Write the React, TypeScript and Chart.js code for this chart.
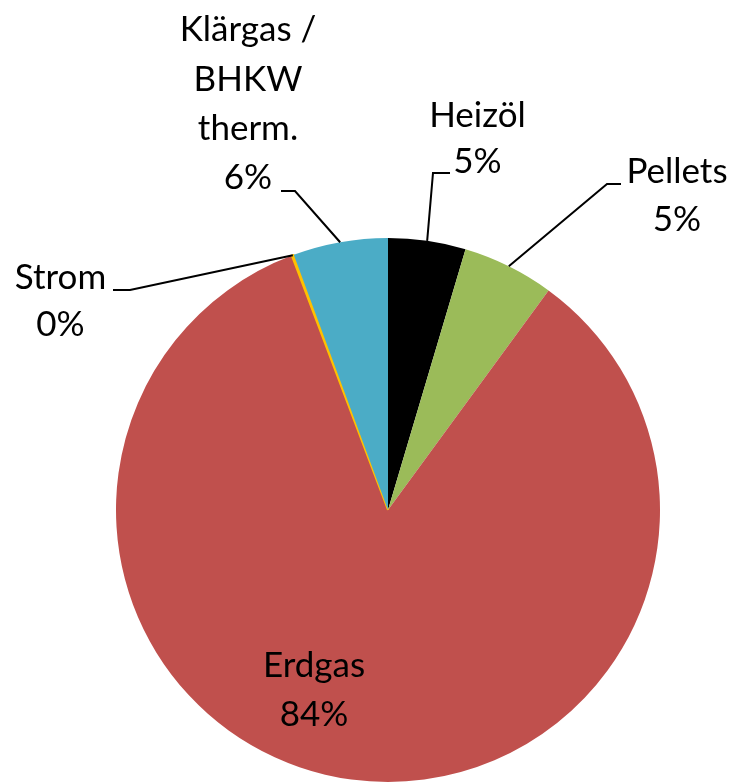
import React, { useEffect, useRef } from "react";
import { Chart, registerables } from "chart.js";

Chart.register(...registerables);

// ---- data ----
const categories = ["Heizöl", "Pellets", "Erdgas", "Strom", "Klärgas / BHKW therm."];
const shares = [4.6, 5.45, 84.2, 0.12, 5.63];
const sliceColors = ["#000000", "#9BBB59", "#C0504D", "#FFC000", "#4BACC6"];
const labelLines = [["Heizöl"], ["Pellets"], ["Erdgas"], ["Strom"], ["Klärgas /", "BHKW", "therm."]];

// ---- label layout (offsets relative to pie centre) ----
type LabelLayout = {
  dx: number;
  dy: number[]; // baseline of each line (name lines + percentage line)
  elbow?: [number, number];
  hEnd?: [number, number];
};
const labelLayout: LabelLayout[] = [
  { dx: 89.5, dy: [-383.3, -336.7], elbow: [45, -337], hEnd: [62, -337] },
  { dx: 289, dy: [-326.7, -279], elbow: [219, -326], hEnd: [233, -326] },
  { dx: -74, dy: [167, 216] },
  { dx: -327.5, dy: [-220.7, -174], elbow: [-258, -220], hEnd: [-275, -220] },
  { dx: -140, dy: [-469, -419.3, -370, -321], elbow: [-93, -319], hEnd: [-107, -319] },
];

const FONT = "35px Lato, 'Open Sans', sans-serif";

const labelPlugin = {
  id: "pieLabels",
  afterDraw(chart: any) {
    const ctx: CanvasRenderingContext2D = chart.ctx;
    const meta = chart.getDatasetMeta(0);
    const data: number[] = chart.data.datasets[0].data;
    const total = data.reduce((a, b) => a + b, 0);
    ctx.save();
    meta.data.forEach((arc: any, i: number) => {
      const { x, y, startAngle, endAngle, outerRadius } = arc.getProps(
        ["x", "y", "startAngle", "endAngle", "outerRadius"],
        true
      );
      const lay = labelLayout[i];
      const pct = Math.round((data[i] / total) * 100) + "%";
      const lines = [...labelLines[i], pct];
      // leader line
      if (lay.elbow && lay.hEnd) {
        const mid = (startAngle + endAngle) / 2;
        const ax = x + Math.cos(mid) * outerRadius;
        const ay = y + Math.sin(mid) * outerRadius;
        ctx.beginPath();
        ctx.moveTo(x + lay.hEnd[0], y + lay.hEnd[1]);
        ctx.lineTo(x + lay.elbow[0], y + lay.elbow[1]);
        ctx.lineTo(ax, ay);
        ctx.lineWidth = 2;
        ctx.strokeStyle = "#000000";
        ctx.lineJoin = "miter";
        ctx.stroke();
      }
      ctx.font = FONT;
      ctx.fillStyle = "#000000";
      ctx.textAlign = "center";
      ctx.textBaseline = "alphabetic";
      lines.forEach((t, k) => {
        ctx.fillText(t, x + lay.dx, y + lay.dy[k]);
      });
    });
    ctx.restore();
  },
};

export default function App() {
  const ref = useRef<HTMLCanvasElement | null>(null);
  useEffect(() => {
    if (!ref.current) return;
    const chart = new Chart(ref.current, {
      type: "pie",
      data: {
        labels: categories,
        datasets: [
          {
            data: shares,
            backgroundColor: sliceColors,
            borderColor: sliceColors,
            borderWidth: [0, 0, 0, 2, 0],
            hoverOffset: 0,
          },
        ],
      },
      options: {
        responsive: false,
        animation: false,
        events: [],
        layout: { padding: { left: 115, right: 71, top: 237, bottom: 17 } },
        plugins: {
          legend: { display: false },
          tooltip: { enabled: false },
          title: { display: false },
        },
      },
      plugins: [labelPlugin],
    });
    return () => chart.destroy();
  }, []);
  return (
    <div
      style={{
        position: "fixed",
        left: 0,
        top: 0,
        width: 732,
        height: 782,
        overflow: "hidden",
        background: "#ffffff",
      }}
    >
      <canvas ref={ref} width={732} height={800} style={{ width: 732, height: 800, display: "block" }} />
    </div>
  );
}
